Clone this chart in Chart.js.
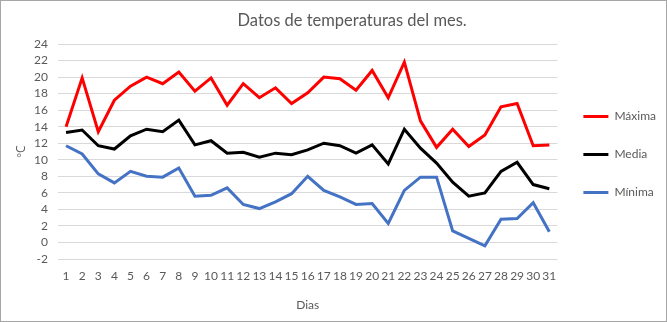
<!DOCTYPE html>
<html>
<head>
<meta charset="utf-8">
<script src="https://cdn.jsdelivr.net/npm/chart.js@4"></script>
<style>
  html, body { margin: 0; padding: 0; background: #fff; }
  #wrap { position: relative; width: 665px; height: 320px; border: 1px solid #a6a6a6; }
</style>
</head>
<body>
<div id="wrap"><canvas id="chart"></canvas></div>
<script>
// Temperaturas diarias del mes.
const dias = ["1","2","3","4","5","6","7","8","9","10","11","12","13","14","15","16",
  "17","18","19","20","21","22","23","24","25","26","27","28","29","30","31"];
const maxima = [14.0, 19.9, 13.4, 17.2, 18.9, 20.0, 19.2, 20.6, 18.3, 19.9, 16.6, 19.2, 17.5, 18.7, 16.8, 18.1,
  20.0, 19.8, 18.4, 20.8, 17.5, 21.8, 14.7, 11.5, 13.7, 11.6, 13.0, 16.4, 16.8, 11.7, 11.8];
const media = [13.3, 13.6, 11.7, 11.3, 12.9, 13.7, 13.4, 14.8, 11.8, 12.3, 10.8, 10.9, 10.3, 10.8, 10.6, 11.2,
  12.0, 11.7, 10.8, 11.8, 9.5, 13.7, 11.4, 9.6, 7.3, 5.6, 6.0, 8.6, 9.7, 7.0, 6.5];
const minima = [11.7, 10.7, 8.3, 7.2, 8.6, 8.0, 7.9, 9.0, 5.6, 5.7, 6.6, 4.6, 4.1, 4.9, 5.9, 8.0,
  6.3, 5.5, 4.6, 4.7, 2.3, 6.3, 7.9, 7.9, 1.4, 0.5, -0.4, 2.8, 2.9, 4.8, 1.3];

const yMin = -2, yMax = 24, yStep = 2;
const titulo = "Datos de temperaturas del mes.";
const grey = "#595959";
const font = "Lato";

// Title sits right of centre in the original, so draw it ourselves.
const titlePlugin = {
  id: "tituloExcel",
  afterDraw(chart) {
    const ctx = chart.ctx;
    ctx.save();
    ctx.font = `16.5px ${font}`;
    ctx.fillStyle = grey;
    ctx.textAlign = "center";
    ctx.textBaseline = "middle";
    ctx.fillText(titulo, chart.width * 0.528, 20);
    ctx.restore();
  },
};

function serie(label, data, color) {
  return {
    label, data,
    borderColor: color, backgroundColor: color,
    borderWidth: 3, pointRadius: 0, tension: 0,
  };
}

new Chart(document.getElementById("chart"), {
  type: "line",
  data: {
    labels: dias,
    datasets: [
      serie("Máxima", maxima, "#ff0000"),
      serie("Media", media, "#000000"),
      serie("Mínima", minima, "#4472c4"),
    ],
  },
  options: {
    responsive: true,
    maintainAspectRatio: false,
    animation: false,
    layout: { padding: { top: 43, left: 0, right: 0, bottom: 0 } },
    plugins: {
      legend: {
        position: "right",
        fullSize: false,
        maxWidth: 112,
        // empty title just nudges the items down a few px
        title: { display: true, text: "", padding: 0, font: { size: 6, lineHeight: 1 } },
        labels: {
          usePointStyle: true,
          pointStyle: "line",
          pointStyleWidth: 25,
          padding: 26,
          color: grey,
          font: { family: font, size: 12 },
        },
      },
      tooltip: { enabled: false },
    },
    scales: {
      x: {
        offset: true,
        grid: { display: false, drawTicks: false },
        border: { display: false },
        ticks: { autoSkip: false, maxRotation: 0, padding: 10, color: grey, font: { family: font, size: 12 } },
        title: { display: true, text: "Dias", color: grey, font: { family: font, size: 12 }, padding: { bottom: 9 } },
        afterFit: (s) => { s.height = 62; },
      },
      y: {
        min: yMin, max: yMax,
        grid: { color: "#d9d9d9", drawTicks: false },
        border: { display: false },
        ticks: { stepSize: yStep, autoSkip: false, padding: 10, color: grey, font: { family: font, size: 12, lineHeight: 1 } },
        title: { display: true, text: "ºC", color: grey, font: { family: "Open Sans", size: 12 }, padding: { top: 13 } },
        afterFit: (s) => { s.width = 57; },
      },
    },
  },
  plugins: [titlePlugin],
});
</script>
</body>
</html>
